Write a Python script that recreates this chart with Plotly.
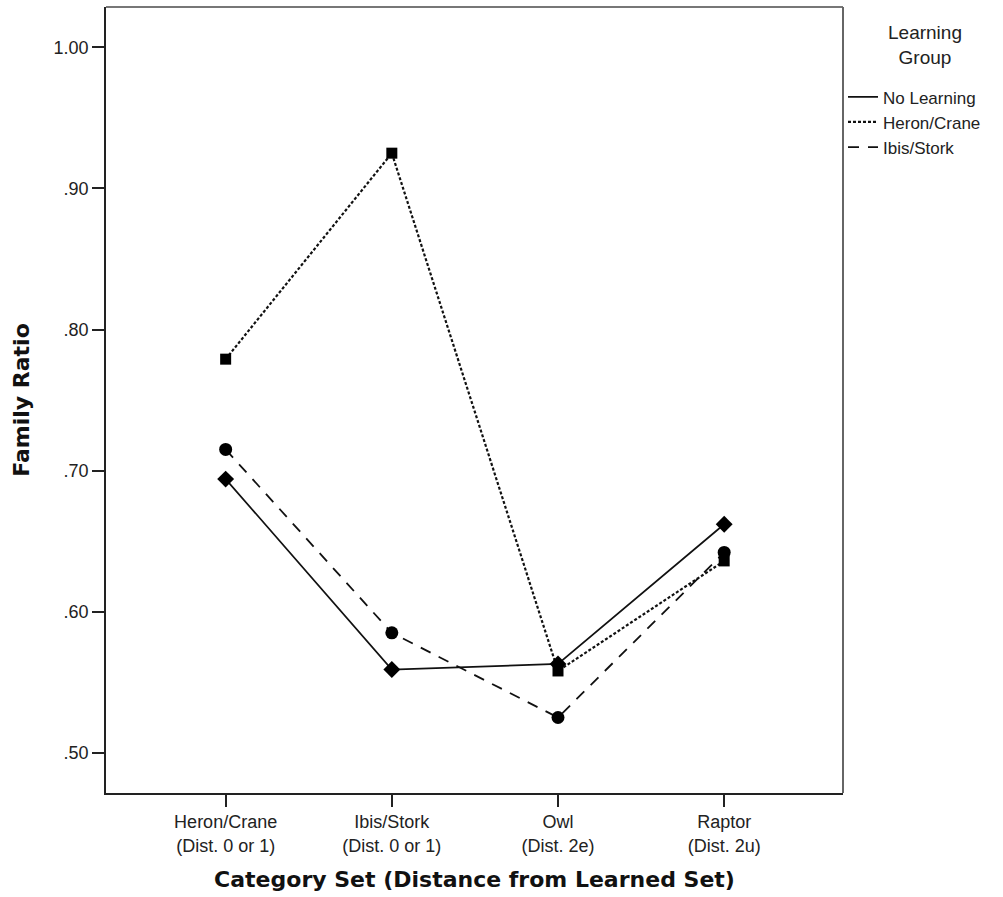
import plotly.graph_objects as go

categories = ["Heron/Crane<br>(Dist. 0 or 1)", "Ibis/Stork<br>(Dist. 0 or 1)",
              "Owl<br>(Dist. 2e)", "Raptor<br>(Dist. 2u)"]
x_pos = [0, 1, 2, 3]

no_learning = [0.694, 0.559, 0.563, 0.662]
heron_crane = [0.779, 0.925, 0.558, 0.636]
ibis_stork = [0.715, 0.585, 0.525, 0.642]

y_tickvals = [0.5, 0.6, 0.7, 0.8, 0.9, 1.0]
y_ticktext = [".50", ".60", ".70", ".80", ".90", "1.00"]

series = [
    ("No Learning", no_learning, "solid", 1.7, "diamond", 13),
    ("Heron/Crane", heron_crane, "3px,2px", 2.2, "square", 11),
    ("Ibis/Stork", ibis_stork, "11px,9px", 1.8, "circle", 13),
]

fig = go.Figure()
for name, vals, dash, lw, sym, msize in series:
    fig.add_trace(go.Scatter(
        x=x_pos, y=vals, mode="lines", name=name,
        line=dict(color="#111", width=lw, dash=dash),
    ))
for name, vals, dash, lw, sym, msize in series:
    fig.add_trace(go.Scatter(
        x=x_pos, y=vals, mode="markers", name=name, showlegend=False,
        marker=dict(color="black", symbol=sym, size=msize, line=dict(width=0)),
    ))

font_reg = "Liberation Sans, Arial, sans-serif"
font_bold = "DejaVu Sans, Verdana, sans-serif"

fig.update_layout(
    width=1003, height=897,
    margin=dict(l=106, r=160, t=7, b=104),
    paper_bgcolor="white", plot_bgcolor="white",
    showlegend=True,
    legend=dict(
        x=1.0, xanchor="left", y=0.908, yanchor="top",
        font=dict(family=font_reg, size=17, color="#222"),
        tracegroupgap=0, itemwidth=30,
        bgcolor="rgba(0,0,0,0)",
    ),
    annotations=[
        dict(text="Learning<br>Group", xref="paper", yref="paper",
             x=1.111, y=0.952, xanchor="center", yanchor="middle",
             showarrow=False, align="center",
             font=dict(family=font_reg, size=19, color="#222")),
    ],
    xaxis=dict(
        range=[-0.72, 3.715], tickmode="array", tickvals=x_pos, ticktext=categories,
        showgrid=False, zeroline=False, showline=True, linecolor="#222", linewidth=1.5,
        ticks="outside", ticklen=12, tickwidth=1.5, tickcolor="#222",
        tickfont=dict(family=font_reg, size=18, color="#222"),
        title=dict(text="<b>Category Set (Distance from Learned Set)</b>",
                   font=dict(family=font_bold, size=22, color="#111"), standoff=17),
    ),
    yaxis=dict(
        range=[0.4715, 1.0286], tickmode="array", tickvals=y_tickvals, ticktext=y_ticktext,
        showgrid=False, zeroline=False, showline=True, linecolor="#222", linewidth=1.5,
        ticks="outside", ticklen=12, tickwidth=1.5, tickcolor="#222",
        tickfont=dict(family=font_reg, size=18, color="#222"),
        title=dict(text="<b>Family Ratio</b>",
                   font=dict(family=font_bold, size=22, color="#111"), standoff=18),
    ),
    shapes=[
        dict(type="line", xref="paper", yref="paper", x0=0, x1=1, y0=1, y1=1,
             line=dict(color="#777", width=2)),
        dict(type="line", xref="paper", yref="paper", x0=1, x1=1, y0=0, y1=1,
             line=dict(color="#666", width=2)),
    ],
)

fig.write_html("out.html")
